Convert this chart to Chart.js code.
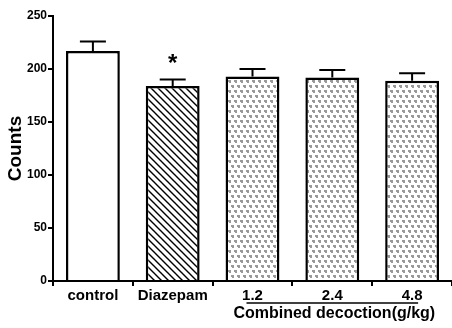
<!DOCTYPE html>
<html>
<head>
<meta charset="utf-8">
<script src="https://cdn.jsdelivr.net/npm/chart.js@4.4.1/dist/chart.umd.min.js"></script>
<style>
  html, body { margin: 0; padding: 0; background: #fff; }
</style>
</head>
<body>
<canvas id="myChart" width="452" height="328"></canvas>
<script>
// data
var groups = ['control', 'Diazepam', '1.2', '2.4', '4.8'];
var counts = [217, 184, 193, 192, 189];
var errors = [9, 6, 7, 7, 7];
var yTicks = [0, 50, 100, 150, 200, 250];
var groupLabel = 'Combined decoction(g/kg)';
var starred = [1];

function hatchPattern() {
  var c = document.createElement('canvas');
  c.width = 7; c.height = 7;
  var g = c.getContext('2d');
  g.fillStyle = '#fff';
  g.fillRect(0, 0, 7, 7);
  g.strokeStyle = '#000';
  g.lineWidth = 1.4;
  g.beginPath();
  g.moveTo(-1, -1); g.lineTo(8, 8);
  g.moveTo(-8, -1); g.lineTo(1, 8);
  g.moveTo(6, -1); g.lineTo(15, 8);
  g.stroke();
  return g.createPattern(c, 'repeat');
}

function dotPattern() {
  var c = document.createElement('canvas');
  c.width = 6; c.height = 10;
  var g = c.getContext('2d');
  g.fillStyle = '#fff';
  g.fillRect(0, 0, 6, 10);
  g.fillStyle = '#999';
  g.fillRect(0, 0, 3, 2);
  g.fillRect(1, 2, 2, 1);
  g.fillRect(3, 5, 3, 2);
  g.fillRect(4, 7, 2, 1);
  return g.createPattern(c, 'repeat');
}

var ctx = document.getElementById('myChart').getContext('2d');
var fills = ['#fff', hatchPattern(), dotPattern(), dotPattern(), dotPattern()];

var extras = {
  id: 'extras',
  afterDatasetsDraw: function (chart) {
    var c = chart.ctx;
    var x = chart.scales.x, y = chart.scales.y;
    c.save();
    c.strokeStyle = '#000';
    c.lineWidth = 2;
    for (var i = 0; i < counts.length; i++) {
      var px = x.getPixelForValue(i);
      var yTop = y.getPixelForValue(counts[i]);
      var yErr = y.getPixelForValue(counts[i] + errors[i]);
      c.beginPath();
      c.moveTo(px, yTop); c.lineTo(px, yErr);
      c.moveTo(px - 13, yErr); c.lineTo(px + 13, yErr);
      c.stroke();
    }
    c.fillStyle = '#000';
    c.font = 'bold 24px Arial, "Liberation Sans", sans-serif';
    c.textAlign = 'center';
    c.textBaseline = 'middle';
    starred.forEach(function (i) {
      var px = x.getPixelForValue(i);
      var yErr = y.getPixelForValue(counts[i] + errors[i]);
      c.fillText('*', px, yErr - 15);
    });
    // group bracket and label
    var x1 = x.getPixelForValue(2) - 6, x2 = x.getPixelForValue(4) + 6;
    c.lineWidth = 1.5;
    c.beginPath();
    c.moveTo(x1, 303); c.lineTo(x2, 303);
    c.stroke();
    c.font = 'bold 16px Arial, "Liberation Sans", sans-serif';
    c.fillText(groupLabel, (x.getPixelForValue(2) + x.getPixelForValue(4)) / 2 + 2, 314);
    c.restore();
  }
};

var myChart = new Chart(ctx, {
  type: 'bar',
  data: {
    labels: groups,
    datasets: [{
      data: counts,
      backgroundColor: fills,
      borderColor: '#000',
      borderWidth: 2.5,
      borderSkipped: 'bottom',
      categoryPercentage: 1,
      barPercentage: 0.675
    }]
  },
  options: {
    responsive: false,
    animation: false,
    layout: { padding: { top: 16, right: 0, bottom: 22, left: 0 } },
    plugins: {
      legend: { display: false },
      tooltip: { enabled: false }
    },
    scales: {
      x: {
        grid: { display: true, drawOnChartArea: false, drawTicks: true, tickLength: 5, color: '#000', lineWidth: 2 },
        border: { color: '#000', width: 2 },
        ticks: {
          color: '#000',
          padding: 1,
          font: { family: 'Arial, "Liberation Sans", sans-serif', size: 15, weight: 'bold' }
        }
      },
      y: {
        min: 0,
        max: 250,
        afterBuildTicks: function (axis) {
          axis.ticks = yTicks.map(function (v) { return { value: v }; });
        },
        afterFit: function (axis) { axis.width = 53; },
        grid: { display: true, drawOnChartArea: false, drawTicks: true, tickLength: 5, color: '#000', lineWidth: 2 },
        border: { color: '#000', width: 2 },
        ticks: {
          color: '#000',
          padding: 1,
          font: { family: 'Arial, "Liberation Sans", sans-serif', size: 12, weight: 'bold' }
        },
        title: {
          display: true,
          text: 'Counts',
          color: '#000',
          padding: { top: 4, bottom: 0 },
          font: { family: 'Arial, "Liberation Sans", sans-serif', size: 19, weight: 'bold' }
        }
      }
    }
  },
  plugins: [extras]
});
</script>
</body>
</html>
